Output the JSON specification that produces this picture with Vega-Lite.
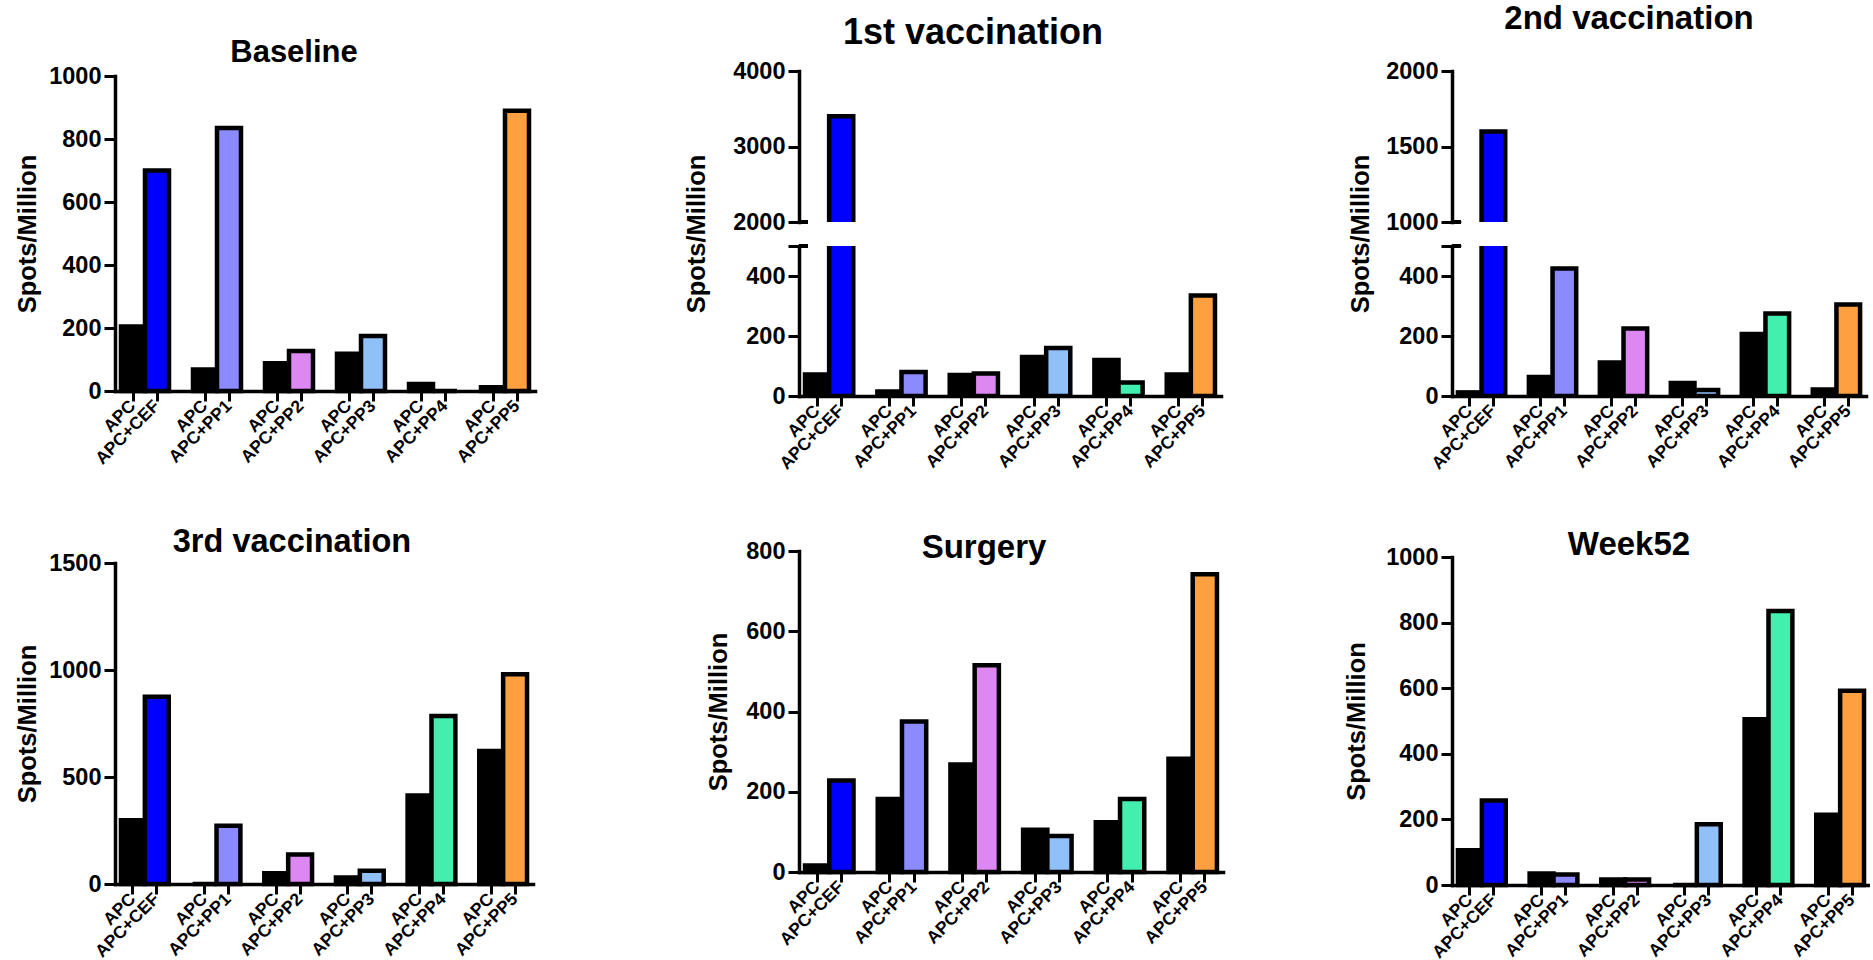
{
  "$schema": "https://vega.github.io/schema/vega-lite/v6.json",
  "background": "white",
  "padding": {"left": 15, "top": 2, "right": 0, "bottom": 0},
  "config": {
    "view": {"stroke": null},
    "font": "Liberation Sans",
    "axis": {
      "domainColor": "black", "domainWidth": 3.5, "domainCap": "square",
      "tickColor": "black", "tickWidth": 3, "tickSize": 11,
      "labelColor": "black", "labelFont": "Liberation Sans", "labelFontWeight": "bold",
      "titleColor": "black", "titleFont": "Liberation Sans", "titleFontWeight": "bold", "titleFontSize": 25.5,
      "grid": false
    },
    "axisY": {"labelFontSize": 23.5, "labelPadding": 3, "format": "d", "titleBaseline": "middle", "titleAlign": "center"},
    "axisX": {"labelFontSize": 17.5, "labelAngle": -45, "labelAlign": "right", "labelBaseline": "middle", "labelPadding": 2, "tickSize": 10, "labelOverlap": false},
    "title": {"font": "Liberation Sans", "fontWeight": "bold", "color": "black", "anchor": "middle", "frame": "group"},
    "bar": {"stroke": "black", "strokeWidth": 4.5},
    "tick": {"color": "black", "thickness": 3, "size": 9, "orient": "horizontal"}
  },
  "datasets": {
    "spots": [
      {"panel": "Baseline", "bar": "CEF|APC", "stim": "APC", "value": 205},
      {"panel": "Baseline", "bar": "CEF|APC+CEF", "stim": "CEF", "value": 700},
      {"panel": "Baseline", "bar": "PP1|APC", "stim": "APC", "value": 68},
      {"panel": "Baseline", "bar": "PP1|APC+PP1", "stim": "PP1", "value": 835},
      {"panel": "Baseline", "bar": "PP2|APC", "stim": "APC", "value": 88},
      {"panel": "Baseline", "bar": "PP2|APC+PP2", "stim": "PP2", "value": 127},
      {"panel": "Baseline", "bar": "PP3|APC", "stim": "APC", "value": 118},
      {"panel": "Baseline", "bar": "PP3|APC+PP3", "stim": "PP3", "value": 175},
      {"panel": "Baseline", "bar": "PP4|APC", "stim": "APC", "value": 22},
      {"panel": "Baseline", "bar": "PP4|APC+PP4", "stim": "PP4", "value": 0},
      {"panel": "Baseline", "bar": "PP5|APC", "stim": "APC", "value": 12},
      {"panel": "Baseline", "bar": "PP5|APC+PP5", "stim": "PP5", "value": 890},

      {"panel": "1st vaccination", "bar": "CEF|APC", "stim": "APC", "value": 72},
      {"panel": "1st vaccination", "bar": "CEF|APC+CEF", "stim": "CEF", "value": 3400},
      {"panel": "1st vaccination", "bar": "PP1|APC", "stim": "APC", "value": 15},
      {"panel": "1st vaccination", "bar": "PP1|APC+PP1", "stim": "PP1", "value": 80},
      {"panel": "1st vaccination", "bar": "PP2|APC", "stim": "APC", "value": 70},
      {"panel": "1st vaccination", "bar": "PP2|APC+PP2", "stim": "PP2", "value": 75},
      {"panel": "1st vaccination", "bar": "PP3|APC", "stim": "APC", "value": 130},
      {"panel": "1st vaccination", "bar": "PP3|APC+PP3", "stim": "PP3", "value": 160},
      {"panel": "1st vaccination", "bar": "PP4|APC", "stim": "APC", "value": 120},
      {"panel": "1st vaccination", "bar": "PP4|APC+PP4", "stim": "PP4", "value": 45},
      {"panel": "1st vaccination", "bar": "PP5|APC", "stim": "APC", "value": 72},
      {"panel": "1st vaccination", "bar": "PP5|APC+PP5", "stim": "PP5", "value": 335},

      {"panel": "2nd vaccination", "bar": "CEF|APC", "stim": "APC", "value": 12},
      {"panel": "2nd vaccination", "bar": "CEF|APC+CEF", "stim": "CEF", "value": 1600},
      {"panel": "2nd vaccination", "bar": "PP1|APC", "stim": "APC", "value": 63},
      {"panel": "2nd vaccination", "bar": "PP1|APC+PP1", "stim": "PP1", "value": 425},
      {"panel": "2nd vaccination", "bar": "PP2|APC", "stim": "APC", "value": 112},
      {"panel": "2nd vaccination", "bar": "PP2|APC+PP2", "stim": "PP2", "value": 225},
      {"panel": "2nd vaccination", "bar": "PP3|APC", "stim": "APC", "value": 43},
      {"panel": "2nd vaccination", "bar": "PP3|APC+PP3", "stim": "PP3", "value": 20},
      {"panel": "2nd vaccination", "bar": "PP4|APC", "stim": "APC", "value": 207},
      {"panel": "2nd vaccination", "bar": "PP4|APC+PP4", "stim": "PP4", "value": 275},
      {"panel": "2nd vaccination", "bar": "PP5|APC", "stim": "APC", "value": 22},
      {"panel": "2nd vaccination", "bar": "PP5|APC+PP5", "stim": "PP5", "value": 305},

      {"panel": "3rd vaccination", "bar": "CEF|APC", "stim": "APC", "value": 298},
      {"panel": "3rd vaccination", "bar": "CEF|APC+CEF", "stim": "CEF", "value": 875},
      {"panel": "3rd vaccination", "bar": "PP1|APC", "stim": "APC", "value": 0},
      {"panel": "3rd vaccination", "bar": "PP1|APC+PP1", "stim": "PP1", "value": 272},
      {"panel": "3rd vaccination", "bar": "PP2|APC", "stim": "APC", "value": 50},
      {"panel": "3rd vaccination", "bar": "PP2|APC+PP2", "stim": "PP2", "value": 138},
      {"panel": "3rd vaccination", "bar": "PP3|APC", "stim": "APC", "value": 30},
      {"panel": "3rd vaccination", "bar": "PP3|APC+PP3", "stim": "PP3", "value": 62},
      {"panel": "3rd vaccination", "bar": "PP4|APC", "stim": "APC", "value": 413},
      {"panel": "3rd vaccination", "bar": "PP4|APC+PP4", "stim": "PP4", "value": 785},
      {"panel": "3rd vaccination", "bar": "PP5|APC", "stim": "APC", "value": 622},
      {"panel": "3rd vaccination", "bar": "PP5|APC+PP5", "stim": "PP5", "value": 980},

      {"panel": "Surgery", "bar": "CEF|APC", "stim": "APC", "value": 16},
      {"panel": "Surgery", "bar": "CEF|APC+CEF", "stim": "CEF", "value": 228},
      {"panel": "Surgery", "bar": "PP1|APC", "stim": "APC", "value": 182},
      {"panel": "Surgery", "bar": "PP1|APC+PP1", "stim": "PP1", "value": 375},
      {"panel": "Surgery", "bar": "PP2|APC", "stim": "APC", "value": 268},
      {"panel": "Surgery", "bar": "PP2|APC+PP2", "stim": "PP2", "value": 515},
      {"panel": "Surgery", "bar": "PP3|APC", "stim": "APC", "value": 105},
      {"panel": "Surgery", "bar": "PP3|APC+PP3", "stim": "PP3", "value": 90},
      {"panel": "Surgery", "bar": "PP4|APC", "stim": "APC", "value": 124},
      {"panel": "Surgery", "bar": "PP4|APC+PP4", "stim": "PP4", "value": 182},
      {"panel": "Surgery", "bar": "PP5|APC", "stim": "APC", "value": 282},
      {"panel": "Surgery", "bar": "PP5|APC+PP5", "stim": "PP5", "value": 742},

      {"panel": "Week52", "bar": "CEF|APC", "stim": "APC", "value": 106},
      {"panel": "Week52", "bar": "CEF|APC+CEF", "stim": "CEF", "value": 258},
      {"panel": "Week52", "bar": "PP1|APC", "stim": "APC", "value": 35},
      {"panel": "Week52", "bar": "PP1|APC+PP1", "stim": "PP1", "value": 32},
      {"panel": "Week52", "bar": "PP2|APC", "stim": "APC", "value": 17},
      {"panel": "Week52", "bar": "PP2|APC+PP2", "stim": "PP2", "value": 17},
      {"panel": "Week52", "bar": "PP3|APC", "stim": "APC", "value": 0},
      {"panel": "Week52", "bar": "PP3|APC+PP3", "stim": "PP3", "value": 185},
      {"panel": "Week52", "bar": "PP4|APC", "stim": "APC", "value": 505},
      {"panel": "Week52", "bar": "PP4|APC+PP4", "stim": "PP4", "value": 835},
      {"panel": "Week52", "bar": "PP5|APC", "stim": "APC", "value": 214},
      {"panel": "Week52", "bar": "PP5|APC+PP5", "stim": "PP5", "value": 592}
    ]
  },
  "bounds": "flush",
  "spacing": 684,
  "hconcat": [
    {
      "bounds": "flush",
      "spacing": 172,
      "vconcat": [
        {
          "title": {"text": "Baseline", "fontSize": 31, "offset": -5, "dx": -31},
          "width": 420, "height": 320,
          "data": {"name": "spots"},
          "transform": [{"filter": "datum.panel === 'Baseline'"}],
          "mark": {"type": "bar"},
          "encoding": {
            "x": {"field": "bar", "type": "nominal", "sort": null,
              "scale": {"domain": ["CEF|APC","CEF|APC+CEF","gap1","PP1|APC","PP1|APC+PP1","gap2","PP2|APC","PP2|APC+PP2","gap3","PP3|APC","PP3|APC+PP3","gap4","PP4|APC","PP4|APC+PP4","gap5","PP5|APC","PP5|APC+PP5"], "paddingInner": 0, "paddingOuter": 0.25},
              "axis": {"title": null, "values": ["CEF|APC","CEF|APC+CEF","PP1|APC","PP1|APC+PP1","PP2|APC","PP2|APC+PP2","PP3|APC","PP3|APC+PP3","PP4|APC","PP4|APC+PP4","PP5|APC","PP5|APC+PP5"], "labelExpr": "split(datum.value, '|')[1]"}},
            "y": {"field": "value", "type": "quantitative",
              "scale": {"domain": [0, 1000], "range": [320, 5], "nice": false},
              "axis": {"title": "Spots/Million", "titleX": -88, "values": [0, 200, 400, 600, 800, 1000]}},
            "color": {"field": "stim", "type": "nominal", "legend": null,
              "scale": {"domain": ["APC","CEF","PP1","PP2","PP3","PP4","PP5"], "range": ["#000000","#0000FF","#8B8BFF","#DD88F2","#8FC0F8","#42EFAF","#FFA040"]}}
          }
        },
        {
          "title": {"text": "3rd vaccination", "fontSize": 32.5, "offset": -7, "dx": -32},
          "width": 418, "height": 321,
          "data": {"name": "spots"},
          "transform": [{"filter": "datum.panel === '3rd vaccination'"}],
          "mark": {"type": "bar"},
          "encoding": {
            "x": {"field": "bar", "type": "nominal", "sort": null,
              "scale": {"domain": ["CEF|APC","CEF|APC+CEF","gap1","PP1|APC","PP1|APC+PP1","gap2","PP2|APC","PP2|APC+PP2","gap3","PP3|APC","PP3|APC+PP3","gap4","PP4|APC","PP4|APC+PP4","gap5","PP5|APC","PP5|APC+PP5"], "paddingInner": 0, "paddingOuter": 0.25},
              "axis": {"title": null, "values": ["CEF|APC","CEF|APC+CEF","PP1|APC","PP1|APC+PP1","PP2|APC","PP2|APC+PP2","PP3|APC","PP3|APC+PP3","PP4|APC","PP4|APC+PP4","PP5|APC","PP5|APC+PP5"], "labelExpr": "split(datum.value, '|')[1]"}},
            "y": {"field": "value", "type": "quantitative",
              "scale": {"domain": [0, 1500], "nice": false},
              "axis": {"title": "Spots/Million", "titleX": -88, "values": [0, 500, 1000, 1500]}},
            "color": {"field": "stim", "type": "nominal", "legend": null,
              "scale": {"domain": ["APC","CEF","PP1","PP2","PP3","PP4","PP5"], "range": ["#000000","#0000FF","#8B8BFF","#DD88F2","#8FC0F8","#42EFAF","#FFA040"]}}
          }
        }
      ]
    },
    {
      "bounds": "flush",
      "spacing": 653,
      "hconcat": [
        {
          "bounds": "flush",
          "spacing": 480,
          "vconcat": [
            {
              "bounds": "flush",
              "spacing": 24,
              "vconcat": [
                {
                  "title": {"text": "1st vaccination", "fontSize": 36, "offset": 7.5, "dx": -37},
                  "width": 422, "height": 151,
                  "data": {"name": "spots"},
                  "transform": [{"filter": "datum.panel === '1st vaccination'"}],
                  "layer": [
                    {
                      "mark": {"type": "bar", "clip": true},
                      "encoding": {
                        "x": {"field": "bar", "type": "nominal", "sort": null,
                          "scale": {"domain": ["CEF|APC","CEF|APC+CEF","gap1","PP1|APC","PP1|APC+PP1","gap2","PP2|APC","PP2|APC+PP2","gap3","PP3|APC","PP3|APC+PP3","gap4","PP4|APC","PP4|APC+PP4","gap5","PP5|APC","PP5|APC+PP5"], "paddingInner": 0, "paddingOuter": 0.25},
                          "axis": null},
                        "y": {"field": "value", "type": "quantitative",
                          "scale": {"domain": [2000, 4000], "nice": false, "zero": false},
                          "axis": {"title": null, "values": [2000, 3000, 4000]}},
                        "color": {"field": "stim", "type": "nominal", "legend": null,
                          "scale": {"domain": ["APC","CEF","PP1","PP2","PP3","PP4","PP5"], "range": ["#000000","#0000FF","#8B8BFF","#DD88F2","#8FC0F8","#42EFAF","#FFA040"]}}
                      }
                    },
                    {
                      "mark": {"type": "tick", "xOffset": -13.6},
                      "encoding": {
                        "x": {"datum": "CEF|APC"},
                        "y": {"datum": 2000}
                      }
                    }
                  ]
                },
                {
                  "width": 422, "height": 150,
                  "data": {"name": "spots"},
                  "transform": [{"filter": "datum.panel === '1st vaccination'"}],
                  "layer": [
                    {
                      "mark": {"type": "bar", "clip": true},
                      "encoding": {
                        "x": {"field": "bar", "type": "nominal", "sort": null,
                          "scale": {"domain": ["CEF|APC","CEF|APC+CEF","gap1","PP1|APC","PP1|APC+PP1","gap2","PP2|APC","PP2|APC+PP2","gap3","PP3|APC","PP3|APC+PP3","gap4","PP4|APC","PP4|APC+PP4","gap5","PP5|APC","PP5|APC+PP5"], "paddingInner": 0, "paddingOuter": 0.25},
                          "axis": {"title": null, "values": ["CEF|APC","CEF|APC+CEF","PP1|APC","PP1|APC+PP1","PP2|APC","PP2|APC+PP2","PP3|APC","PP3|APC+PP3","PP4|APC","PP4|APC+PP4","PP5|APC","PP5|APC+PP5"], "labelExpr": "split(datum.value, '|')[1]"}},
                        "y": {"field": "value", "type": "quantitative",
                          "scale": {"domain": [0, 500], "nice": false},
                          "axis": {"title": "Spots/Million", "titleX": -103, "titleY": -12.5, "values": [0, 200, 400, 500], "labelExpr": "datum.value === 500 ? '' : datum.label"}},
                        "color": {"field": "stim", "type": "nominal", "legend": null,
                          "scale": {"domain": ["APC","CEF","PP1","PP2","PP3","PP4","PP5"], "range": ["#000000","#0000FF","#8B8BFF","#DD88F2","#8FC0F8","#42EFAF","#FFA040"]}}
                      }
                    },
                    {
                      "mark": {"type": "tick", "xOffset": -13.6},
                      "encoding": {
                        "x": {"datum": "CEF|APC"},
                        "y": {"datum": 500}
                      }
                    }
                  ]
                }
              ]
            },
            {
              "title": {"text": "Surgery", "fontSize": 33, "offset": -25.5, "dx": -27},
              "width": 424, "height": 321,
              "data": {"name": "spots"},
              "transform": [{"filter": "datum.panel === 'Surgery'"}],
              "mark": {"type": "bar"},
              "encoding": {
                "x": {"field": "bar", "type": "nominal", "sort": null,
                  "scale": {"domain": ["CEF|APC","CEF|APC+CEF","gap1","PP1|APC","PP1|APC+PP1","gap2","PP2|APC","PP2|APC+PP2","gap3","PP3|APC","PP3|APC+PP3","gap4","PP4|APC","PP4|APC+PP4","gap5","PP5|APC","PP5|APC+PP5"], "paddingInner": 0, "paddingOuter": 0.25},
                  "axis": {"title": null, "values": ["CEF|APC","CEF|APC+CEF","PP1|APC","PP1|APC+PP1","PP2|APC","PP2|APC+PP2","PP3|APC","PP3|APC+PP3","PP4|APC","PP4|APC+PP4","PP5|APC","PP5|APC+PP5"], "labelExpr": "split(datum.value, '|')[1]"}},
                "y": {"field": "value", "type": "quantitative",
                  "scale": {"domain": [0, 800], "nice": false},
                  "axis": {"title": "Spots/Million", "titleX": -81, "values": [0, 200, 400, 600, 800]}},
                "color": {"field": "stim", "type": "nominal", "legend": null,
                  "scale": {"domain": ["APC","CEF","PP1","PP2","PP3","PP4","PP5"], "range": ["#000000","#0000FF","#8B8BFF","#DD88F2","#8FC0F8","#42EFAF","#FFA040"]}}
              }
            }
          ]
        },
        {
          "bounds": "flush",
          "spacing": 486,
          "vconcat": [
            {
              "bounds": "flush",
              "spacing": 24,
              "vconcat": [
                {
                  "title": {"text": "2nd vaccination", "fontSize": 33, "offset": 23.5, "dx": -30},
                  "width": 414, "height": 151,
                  "data": {"name": "spots"},
                  "transform": [{"filter": "datum.panel === '2nd vaccination'"}],
                  "layer": [
                    {
                      "mark": {"type": "bar", "clip": true},
                      "encoding": {
                        "x": {"field": "bar", "type": "nominal", "sort": null,
                          "scale": {"domain": ["CEF|APC","CEF|APC+CEF","gap1","PP1|APC","PP1|APC+PP1","gap2","PP2|APC","PP2|APC+PP2","gap3","PP3|APC","PP3|APC+PP3","gap4","PP4|APC","PP4|APC+PP4","gap5","PP5|APC","PP5|APC+PP5"], "paddingInner": 0, "paddingOuter": 0.25},
                          "axis": null},
                        "y": {"field": "value", "type": "quantitative",
                          "scale": {"domain": [1000, 2000], "nice": false, "zero": false},
                          "axis": {"title": null, "values": [1000, 1500, 2000]}},
                        "color": {"field": "stim", "type": "nominal", "legend": null,
                          "scale": {"domain": ["APC","CEF","PP1","PP2","PP3","PP4","PP5"], "range": ["#000000","#0000FF","#8B8BFF","#DD88F2","#8FC0F8","#42EFAF","#FFA040"]}}
                      }
                    },
                    {
                      "mark": {"type": "tick", "xOffset": -13.2},
                      "encoding": {
                        "x": {"datum": "CEF|APC"},
                        "y": {"datum": 1000}
                      }
                    }
                  ]
                },
                {
                  "width": 414, "height": 150,
                  "data": {"name": "spots"},
                  "transform": [{"filter": "datum.panel === '2nd vaccination'"}],
                  "layer": [
                    {
                      "mark": {"type": "bar", "clip": true},
                      "encoding": {
                        "x": {"field": "bar", "type": "nominal", "sort": null,
                          "scale": {"domain": ["CEF|APC","CEF|APC+CEF","gap1","PP1|APC","PP1|APC+PP1","gap2","PP2|APC","PP2|APC+PP2","gap3","PP3|APC","PP3|APC+PP3","gap4","PP4|APC","PP4|APC+PP4","gap5","PP5|APC","PP5|APC+PP5"], "paddingInner": 0, "paddingOuter": 0.25},
                          "axis": {"title": null, "values": ["CEF|APC","CEF|APC+CEF","PP1|APC","PP1|APC+PP1","PP2|APC","PP2|APC+PP2","PP3|APC","PP3|APC+PP3","PP4|APC","PP4|APC+PP4","PP5|APC","PP5|APC+PP5"], "labelExpr": "split(datum.value, '|')[1]"}},
                        "y": {"field": "value", "type": "quantitative",
                          "scale": {"domain": [0, 500], "nice": false},
                          "axis": {"title": "Spots/Million", "titleX": -92, "titleY": -12.5, "values": [0, 200, 400, 500], "labelExpr": "datum.value === 500 ? '' : datum.label"}},
                        "color": {"field": "stim", "type": "nominal", "legend": null,
                          "scale": {"domain": ["APC","CEF","PP1","PP2","PP3","PP4","PP5"], "range": ["#000000","#0000FF","#8B8BFF","#DD88F2","#8FC0F8","#42EFAF","#FFA040"]}}
                      }
                    },
                    {
                      "mark": {"type": "tick", "xOffset": -13.2},
                      "encoding": {
                        "x": {"datum": "CEF|APC"},
                        "y": {"datum": 500}
                      }
                    }
                  ]
                }
              ]
            },
            {
              "title": {"text": "Week52", "fontSize": 33, "offset": -16.5, "dx": -32},
              "width": 418, "height": 328,
              "data": {"name": "spots"},
              "transform": [{"filter": "datum.panel === 'Week52'"}],
              "mark": {"type": "bar"},
              "encoding": {
                "x": {"field": "bar", "type": "nominal", "sort": null,
                  "scale": {"domain": ["CEF|APC","CEF|APC+CEF","gap1","PP1|APC","PP1|APC+PP1","gap2","PP2|APC","PP2|APC+PP2","gap3","PP3|APC","PP3|APC+PP3","gap4","PP4|APC","PP4|APC+PP4","gap5","PP5|APC","PP5|APC+PP5"], "paddingInner": 0, "paddingOuter": 0.25},
                  "axis": {"title": null, "values": ["CEF|APC","CEF|APC+CEF","PP1|APC","PP1|APC+PP1","PP2|APC","PP2|APC+PP2","PP3|APC","PP3|APC+PP3","PP4|APC","PP4|APC+PP4","PP5|APC","PP5|APC+PP5"], "labelExpr": "split(datum.value, '|')[1]"}},
                "y": {"field": "value", "type": "quantitative",
                  "scale": {"domain": [0, 1000], "nice": false},
                  "axis": {"title": "Spots/Million", "titleX": -96, "values": [0, 200, 400, 600, 800, 1000]}},
                "color": {"field": "stim", "type": "nominal", "legend": null,
                  "scale": {"domain": ["APC","CEF","PP1","PP2","PP3","PP4","PP5"], "range": ["#000000","#0000FF","#8B8BFF","#DD88F2","#8FC0F8","#42EFAF","#FFA040"]}}
              }
            }
          ]
        }
      ]
    }
  ]
}
